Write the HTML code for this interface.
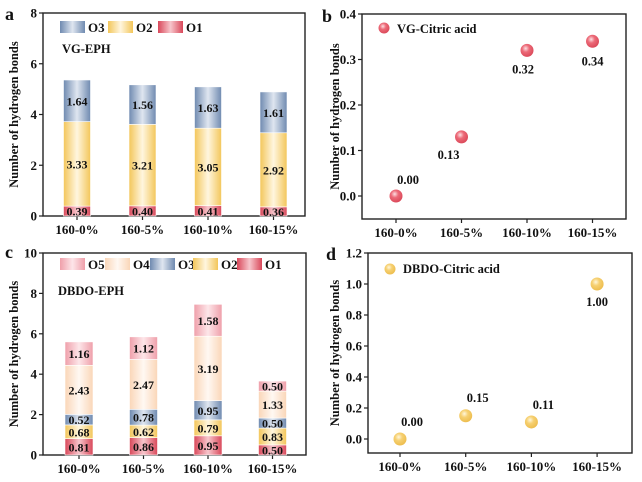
<!DOCTYPE html>
<html><head><meta charset="utf-8"><style>
body{margin:0;background:#fff;}
svg{display:block;font-family:"Liberation Serif",serif;font-weight:bold;}
</style></head><body>
<svg id="fig" width="642" height="482" viewBox="0 0 642 482">
<defs>
<linearGradient id="gO1" x1="0" x2="1"><stop offset="0" stop-color="#d9485a"/><stop offset="0.5" stop-color="#f7c6cc"/><stop offset="1" stop-color="#d9485a"/></linearGradient>
<linearGradient id="gO2" x1="0" x2="1"><stop offset="0" stop-color="#f3c65a"/><stop offset="0.5" stop-color="#fff6df"/><stop offset="1" stop-color="#f3c65a"/></linearGradient>
<linearGradient id="gO3" x1="0" x2="1"><stop offset="0" stop-color="#6f8ab0"/><stop offset="0.5" stop-color="#dfe6f0"/><stop offset="1" stop-color="#6f8ab0"/></linearGradient>
<linearGradient id="gO4" x1="0" x2="1"><stop offset="0" stop-color="#fad6b8"/><stop offset="0.5" stop-color="#fff8f2"/><stop offset="1" stop-color="#fad6b8"/></linearGradient>
<linearGradient id="gO5" x1="0" x2="1"><stop offset="0" stop-color="#ef9faa"/><stop offset="0.5" stop-color="#fde6e9"/><stop offset="1" stop-color="#ef9faa"/></linearGradient>
<radialGradient id="gRed" cx="0.4" cy="0.35" r="0.7"><stop offset="0" stop-color="#fde0e3"/><stop offset="0.4" stop-color="#ec6a78"/><stop offset="1" stop-color="#d94556"/></radialGradient>
<radialGradient id="gYel" cx="0.4" cy="0.35" r="0.7"><stop offset="0" stop-color="#fff7dc"/><stop offset="0.4" stop-color="#f6d071"/><stop offset="1" stop-color="#ecbb4a"/></radialGradient>
</defs>
</svg>
<script>
const cats = ["160-0%","160-5%","160-10%","160-15%"];
// Panel a
const aO1 = [0.39,0.40,0.41,0.36];
const aO2 = [3.33,3.21,3.05,2.92];
const aO3 = [1.64,1.56,1.63,1.61];
const aTicks = [0,2,4,6,8];
// Panel c
const cO1 = [0.81,0.86,0.95,0.50];
const cO2 = [0.68,0.62,0.79,0.83];
const cO3 = [0.52,0.78,0.95,0.50];
const cO4 = [2.43,2.47,3.19,1.33];
const cO5 = [1.16,1.12,1.58,0.50];
const cTicks = [0,2,4,6,8,10];
// Panel b
const bVals = [0.00,0.13,0.32,0.34];
const bTicks = [0.0,0.1,0.2,0.3,0.4];
// Panel d
const dVals = [0.00,0.15,0.11,1.00];
const dTicks = [0.0,0.2,0.4,0.6,0.8,1.0,1.2];

const svg = document.getElementById('fig');
const NS = 'http://www.w3.org/2000/svg';
function mk(tag, attrs, parent){
  const e = document.createElementNS(NS, tag);
  for (const k in attrs) e.setAttribute(k, attrs[k]);
  (parent||svg).appendChild(e); return e;
}
function txt(x,y,s,size,anchor,parent){
  const t = mk('text',{x:x,y:y,'font-size':size,'text-anchor':anchor||'middle',fill:'#111'},parent);
  t.textContent = s; return t;
}

function axes(p){
  const g = mk('g',{});
  
  
  mk('rect',{x:p.L,y:p.T,width:p.R-p.L,height:p.B-p.T,fill:'none',stroke:'#222','stroke-width':1.4},g);
  p.ticks.forEach(v=>{
    const y = p.y(v);
    mk('line',{x1:p.L-4,x2:p.L,y1:y,y2:y,stroke:'#222','stroke-width':1.2},g);
    const t = txt(p.L-6,y+4.5,p.fmt(v),13,'end',g);
    
    
  });
  cats.forEach((c,i)=>{
    const x = p.x(i);
    mk('line',{x1:x,x2:x,y1:p.B,y2:p.B+4,stroke:'#222','stroke-width':1.2},g);
    const t = txt(x,p.B+18,c,13,'middle',g);
    
    
  });
  const yt = txt(0,0,'Number of hydrogen bonds',12.5,'middle',g);
  yt.setAttribute('transform','translate('+p.ytx+','+((p.T+p.B)/2)+') rotate(-90)');
  
  
  const pl = txt(p.lx,p.ly,p.letter,18,'start',g);
  
  
}

function linear(d0,d1,r0,r1){return v=>r0+(v-d0)/(d1-d0)*(r1-r0);}

// ---------- Panel a ----------
const pa = {name:'panel-a',L:43,R:305,T:13,B:216,ticks:aTicks,fmt:v=>String(v),ytx:18,lx:5,ly:20,letter:'a'};
pa.y = linear(0,8,216,13);
pa.x = i=>77+i*65.5;
axes(pa);
function stacked(p, series, fills, names, bw){
  cats.forEach((c,i)=>{
    let acc = 0;
    series.forEach((s,k)=>{
      const v = s[i];
      const y1 = p.y(acc), y2 = p.y(acc+v);
      const r = mk('rect',{x:p.x(i)-bw/2,y:y2,width:bw,height:y1-y2,fill:fills[k],stroke:'#fff','stroke-width':0.6});
      
      
      const t = txt(p.x(i),(y1+y2)/2+4.5,v.toFixed(2),12,'middle');
      
      
      acc += v;
    });
  });
}
stacked(pa,[aO1,aO2,aO3],['url(#gO1)','url(#gO2)','url(#gO3)'],['o1','o2','o3'],27);
function legendBox(x,y,fill,label,name){
  const g = mk('g',{});
  
  
  mk('rect',{x:x,y:y,width:25,height:12,fill:fill},g);
  txt(x+28,y+11,label,13,'start',g);
}
legendBox(60,21,'url(#gO3)','O3','o3');
legendBox(108,21,'url(#gO2)','O2','o2');
legendBox(158,21,'url(#gO1)','O1','o1');
{const t=txt(62,53,'VG-EPH',12.5,'start');}

// ---------- Panel c ----------
const pc = {name:'panel-c',L:43,R:306,T:253,B:455,ticks:cTicks,fmt:v=>String(v),ytx:18,lx:5,ly:258,letter:'c'};
pc.y = linear(0,10,455,253);
pc.x = i=>79+i*64.5;
axes(pc);
stacked(pc,[cO1,cO2,cO3,cO4,cO5],['url(#gO1)','url(#gO2)','url(#gO3)','url(#gO4)','url(#gO5)'],['o1','o2','o3','o4','o5'],28);
legendBox(60,258,'url(#gO5)','O5','o5');
legendBox(105,258,'url(#gO4)','O4','o4');
legendBox(150,258,'url(#gO3)','O3','o3');
legendBox(193,258,'url(#gO2)','O2','o2');
legendBox(237,258,'url(#gO1)','O1','o1');
{const t=txt(58,295,'DBDO-EPH',12.5,'start');}

// ---------- Panel b ----------
const pb = {name:'panel-b',L:362,R:626,T:14,B:219,ticks:bTicks,fmt:v=>v.toFixed(1),ytx:339,lx:322,ly:22,letter:'b'};
pb.y = linear(0,0.4,196,14);
pb.x = i=>396+i*65.5;
axes(pb);
function scatter(p, vals, fill, offs){
  vals.forEach((v,i)=>{
    const c = mk('circle',{cx:p.x(i),cy:p.y(v),r:6.5,fill:fill});
    
    
    const t = txt(p.x(i)+offs[i][0],p.y(v)+offs[i][1],v.toFixed(2),12.5,'middle');
    
    
  });
}
scatter(pb,bVals,'url(#gRed)',[[12,-12],[-13,22],[-4,23],[0,24]]);
{const g=mk('g',{});
 mk('circle',{cx:384,cy:28,r:5.5,fill:'url(#gRed)'},g);txt(397,33,'VG-Citric acid',12.5,'start',g);}

// ---------- Panel d ----------
const pd = {name:'panel-d',L:368,R:632,T:253,B:453,ticks:dTicks,fmt:v=>v.toFixed(1),ytx:339,lx:326,ly:260,letter:'d'};
pd.y = linear(0,1.2,439,253);
pd.x = i=>400+i*65.7;
axes(pd);
scatter(pd,dVals,'url(#gYel)',[[12,-13],[12,-14],[12,-13],[0,22]]);
{const g=mk('g',{});
 mk('circle',{cx:390,cy:269,r:5.5,fill:'url(#gYel)'},g);txt(403,273,'DBDO-Citric acid',12.5,'start',g);}
</script>
</body></html>
